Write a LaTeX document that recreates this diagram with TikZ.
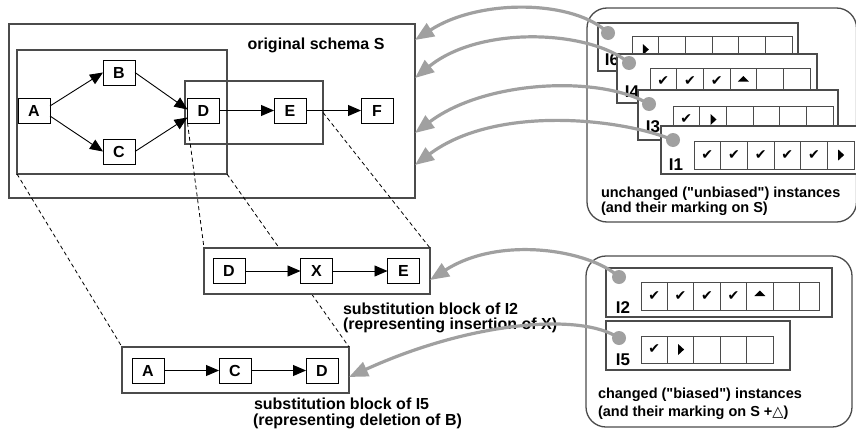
\documentclass[tikz,border=0pt]{standalone}
\usepackage{fontspec}
\setmainfont{Liberation Sans}[Ligatures=TeXOff]
\newfontfamily\symfont{DejaVu Sans}
\usetikzlibrary{arrows.meta}

\definecolor{arrowgray}{RGB}{160,160,160}
\definecolor{framegray}{RGB}{75,75,75}

\tikzset{
  every node/.style={inner sep=0pt, outer sep=0pt},
  act/.style={draw=black, line width=1pt, fill=white, minimum width=32pt, minimum height=25pt,
    font=\fontsize{16}{16}\selectfont\bfseries},
  region/.style={draw=framegray, line width=1.4pt, anchor=north west},
  group/.style={draw=framegray, line width=1.3pt, rounded corners=20pt, anchor=north west},
  flow/.style={line width=0.9pt, -{Triangle[length=13pt,width=11pt]}},
  map/.style={draw=black, line width=0.8pt, dash pattern=on 4pt off 3pt},
  card/.style={draw=framegray, line width=1.2pt, fill=white, anchor=north west},
  cellbox/.style={draw=framegray, line width=1pt},
  cardlbl/.style={font=\fontsize{17}{17}\selectfont\bfseries},
  lbl/.style={font=\fontsize{16}{16}\selectfont\bfseries},
  sub/.style={font=\fontsize{16}{16}\selectfont\bfseries, anchor=base west},
  desc/.style={font=\fontsize{14.5}{14.5}\selectfont\bfseries, anchor=base west},
  chk/.style={font=\symfont\fontsize{14}{14}\selectfont},
  link/.style={draw=arrowgray, line width=3.2pt, -{Triangle[length=19pt,width=15pt]}},
  dot/.style={circle, fill=arrowgray, minimum size=14pt},
}

\def\rowid{x}
\newcommand\mkk{\node[chk] (chk\rowid-\i) at (cc) {✔};}
\newcommand\mkr{\fill (cc) ++(-2.5,-5.5) -- ++(0,11) -- ++(6,-5.5) -- cycle;}
\newcommand\mku{\fill (cc) ++(-5.5,0) -- ++(11,0) -- ++(-5.5,-5.5) -- cycle;}
\newcommand\mke{}
\newcommand\cardrow[5]{%
  \foreach \s [count=\i] in {#5}{%
    \draw[cellbox] ({#1+(\i-1)*#3},#2) rectangle ({#1+\i*#3},{#2+#4});
    \coordinate (cc) at ({#1+(\i-0.5)*#3},{#2+#4/2});
    \csname mk\s\endcsname
  }}

\begin{document}
\begin{tikzpicture}[x=1pt,y=-1pt]
\useasboundingbox (0,0) rectangle (856,431);
\clip (0,0) rectangle (856,431);

% instance groups
\node[group, minimum width=269.5pt, minimum height=214pt] (grpU) at (587,8) {};
\node[group, minimum width=266pt, minimum height=171pt] (grpC) at (586,256) {};

% original schema
\node[region, minimum width=406pt, minimum height=174pt] (schema) at (9,24) {};
\node[region, minimum width=210pt, minimum height=124pt] (lbox) at (17,50) {};
\node[region, minimum width=138pt, minimum height=63pt] (rbox) at (185,81) {};
\node[lbl, anchor=base] (tS) at (316,49) {original schema S};

\node[act] (A) at (34,111) {A};
\node[act] (B) at (119,72.5) {B};
\node[act] (C) at (119,151.5) {C};
\node[act] (D) at (203.5,110.5) {D};
\node[act] (E) at (290,110.5) {E};
\node[act] (F) at (377,110.5) {F};
\draw[flow] ([yshift=5pt]A.east) -- (B.west);
\draw[flow] ([yshift=-5pt]A.east) -- (C.west);
\draw[flow] (B.east) -- ([yshift=1pt]D.west);
\draw[flow] (C.east) -- ([yshift=-7pt]D.west);
\draw[flow] (D) -- (E);
\draw[flow] (E) -- (F);

% substitution block of I5
\node[region, fill=white, minimum width=227pt, minimum height=46pt] (blkI5) at (122,347) {};
\node[act] (A2) at (148,370.5) {A};
\node[act] (C2) at (235,370.5) {C};
\node[act] (D3) at (322,370.5) {D};
\draw[flow] (A2) -- (C2);
\draw[flow] (C2) -- (D3);
\draw[map] (lbox.south west) -- (blkI5.north west);
\draw[map] (lbox.south east) -- (blkI5.north east);

% substitution block of I2
\node[region, fill=white, minimum width=226pt, minimum height=46pt] (blkI2) at (204,248) {};
\node[act] (D2) at (229,271) {D};
\node[act] (X) at (316.5,271) {X};
\node[act] (E2) at (403.5,271) {E};
\draw[flow] (D2) -- (X);
\draw[flow] (X) -- (E2);
\draw[map] (D.south west) -- (blkI2.north west);
\draw[map] (rbox.east) -- (blkI2.north east);

\node[sub] (tI2a) at (343,314) {substitution block of I2};
\node[sub] (tI2b) at (343,329.5) {(representing insertion of X)};
\node[sub] (tI5a) at (254,409) {substitution block of I5};
\node[sub] (tI5b) at (253,425.5) {(representing deletion of B)};

% unchanged instances
\def\rowid{6}
\node[card, minimum width=200pt, minimum height=48pt] (cI6) at (598,23) {};
\cardrow{632}{36}{26.67}{27}{r,e,e,e,e,e}
\node[cardlbl] (lI6) at (612,60) {I6};
\def\rowid{4}
\node[card, minimum width=200pt, minimum height=49pt] (cI4) at (617,54) {};
\cardrow{650}{68}{26.67}{27}{k,k,k,u,e,e}
\node[cardlbl] (lI4) at (632,92) {I4};
\def\rowid{3}
\node[card, minimum width=200pt, minimum height=50pt] (cI3) at (638,90) {};
\cardrow{673}{106}{26.67}{27}{k,r,e,e,e,e}
\node[cardlbl] (lI3) at (653,127) {I3};
\def\rowid{1}
\node[card, minimum width=200pt, minimum height=48pt] (cI1) at (661,126) {};
\cardrow{694}{141}{26.67}{28}{k,k,k,k,k,r}
\node[cardlbl] (lI1) at (676,165) {I1};
\node[desc] (tU1) at (601,197) {unchanged ("unbiased") instances};
\node[desc] (tU2) at (601,212.5) {(and their marking on S)};

% changed instances
\def\rowid{2}
\node[card, minimum width=226pt, minimum height=49pt] (cI2) at (606,268) {};
\cardrow{641}{282}{26.4}{28}{k,k,k,k,u,e}
\draw[cellbox] (799.4,282) rectangle (819,310);
\node[cardlbl] (lI2) at (623,308) {I2};
\def\rowid{5}
\node[card, minimum width=184pt, minimum height=49pt] (cI5) at (606,321) {};
\cardrow{641}{336}{26.4}{27}{k,r,e,e,e}
\node[cardlbl] (lI5) at (623,360) {I5};
\node[desc] (tC1) at (598,398) {changed ("biased") instances};
\node[desc] (tC2) at (598,416.5) {(and their marking on S +{\symfont △})};

% markers and links
\node[dot] (dI6) at (608,33) {};
\node[dot] (dI4) at (629,63) {};
\node[dot] (dI3) at (649,104) {};
\node[dot] (dI1) at (673,140) {};
\node[dot] (dI2) at (619,277) {};
\node[dot] (dI5) at (619,338) {};
\draw[link] (dI6.center) .. controls (575,0) and (480,-2) .. ([yshift=71pt]schema.east);
\draw[link] (dI4.center) .. controls (590,30) and (480,25) .. ([yshift=33pt]schema.east);
\draw[link] (dI3.center) .. controls (600,75) and (485,80) .. ([yshift=-22pt]schema.east);
\draw[link] (dI1.center) .. controls (620,118) and (495,105) .. ([yshift=-54pt]schema.east);
\draw[link] (dI2.center) .. controls (590,250) and (500,235) .. ([yshift=-9pt]blkI2.east);
\draw[link] (dI5.center) .. controls (580,312) and (470,322) .. ([yshift=-7pt]blkI5.east);
\end{tikzpicture}
\end{document}
